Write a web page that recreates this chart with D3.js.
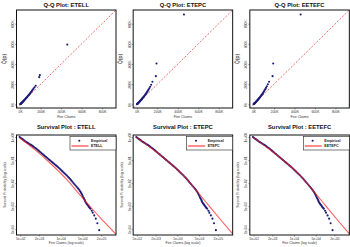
<!DOCTYPE html>
<html><head><meta charset="utf-8">
<script src="https://cdn.jsdelivr.net/npm/d3@7"></script>
<style>body{margin:0;background:#fff}svg{display:block}text{font-family:"Liberation Sans",Arial,sans-serif}</style>
</head><body><svg id="c" width="350" height="247"></svg>
<script>
// ---------- data ----------
const models = ["ETELL", "ETEPC", "EETEFC"];
const qqTicks = [0, 200000, 400000, 600000, 800000];
const qqTickLabels = ["0K", "200K", "400K", "600K", "800K"];
// empirical quantiles (thousands)
const qqEmp = [1,3,5,7,9,11,13,15,18,21,24,27,30,33,36,40,44,48,52,56,60,65,70,75,80,85,90,96,102,108,115,122,130,140,152,186,192,460];
// model quantiles (thousands)
const qqETELL  = [1,3,5,7,9,11,13,15,18,21,24,28,31,34,38,42,46,51,55,60,64,70,76,82,88,94,100,108,116,124,134,144,156,170,185,270,290,593];
const qqETEPC  = [1,3,5,7,9,11,13,15,18,21,24,28,31,35,38,43,47,52,57,62,67,73,79,86,93,100,107,116,126,136,148,160,175,195,224,280,405,892];
const qqEETEFC = [1,3,5,7,9,11,13,15,18,21,24,28,31,35,38,43,47,52,57,62,67,73,80,87,94,101,109,118,128,139,151,164,180,200,224,280,405,892];

const survXTicks = [500, 2000, 10000, 50000, 200000];
const survXTickLabels = ["5e+02", "2e+03", "1e+04", "5e+04", "2e+05"];
const survYTicks = [1, 0.1, 0.01, 0.001, 0.0001];
const survYTickLabels = ["1e+00", "1e-01", "1e-02", "1e-03", "1e-04"];
// empirical survival: log10(claim), log10(S)
const survEmpLogX = [2.68,2.71,2.74,2.77,2.80,2.835,2.87,2.905,2.94,2.975,3.01,3.045,3.08,3.115,3.15,3.185,3.22,3.255,3.29,3.325,3.36,3.395,3.43,3.465,3.50,3.535,3.57,3.605,3.64,3.675,3.71,3.745,3.78,3.815,3.85,3.885,3.92,3.955,3.99,4.025,4.06,4.095,4.13,4.165,4.20,4.235,4.27,4.305,4.34,4.375,4.41,4.445,4.48,4.515,4.55,4.575,4.60,4.625,4.65,4.67,4.69,4.71,4.73,4.75,4.77,4.785,4.80,4.82,4.84,4.86,4.88,4.90,4.92,4.94,4.96,5.00,5.03,5.08,5.13,5.18,5.24];
const survEmpLogS = [0.00,-0.03,-0.06,-0.09,-0.12,-0.155,-0.19,-0.22,-0.25,-0.28,-0.31,-0.34,-0.37,-0.405,-0.44,-0.475,-0.51,-0.55,-0.59,-0.63,-0.67,-0.71,-0.75,-0.79,-0.83,-0.87,-0.91,-0.95,-0.99,-1.03,-1.07,-1.11,-1.15,-1.19,-1.23,-1.27,-1.31,-1.355,-1.40,-1.445,-1.49,-1.535,-1.58,-1.625,-1.67,-1.72,-1.77,-1.825,-1.88,-1.935,-1.99,-2.045,-2.10,-2.155,-2.21,-2.255,-2.30,-2.35,-2.40,-2.45,-2.50,-2.56,-2.62,-2.67,-2.72,-2.77,-2.82,-2.86,-2.90,-2.935,-2.97,-3.01,-3.05,-3.08,-3.11,-3.20,-3.28,-3.40,-3.54,-3.74,-4.04];
// fitted survival curves: log10(claim), log10(S)
const fitLogX = [2.68, 3.2, 3.7, 4.2, 4.6, 5.0, 5.4, 5.78];
const fitETELL  = [-0.03, -0.58, -1.18, -1.85, -2.48, -3.10, -3.68, -4.22];
const fitETEPC  = [0.00, -0.52, -1.06, -1.67, -2.30, -2.95, -3.60, -4.20];
const fitEETEFC = [0.00, -0.52, -1.06, -1.67, -2.30, -2.95, -3.60, -4.20];

const qqY = [qqETELL, qqETEPC, qqEETEFC];
const fitY = [fitETELL, fitETEPC, fitEETEFC];

// ---------- layout ----------
const svg = d3.select("#c");
const colW = 350 / 3;
const boxLeft = 16.5, boxWidth = 99.5;
const topY0 = 10, topY1 = 108;
const botY0 = 135, botY1 = 235;
const navy = "#1c1c78";
const FONT = '"Liberation Sans", Arial, sans-serif';

function box(g, x0, x1, y0, y1) {
  g.append("rect").attr("x", x0).attr("y", y0).attr("width", x1 - x0).attr("height", y1 - y0)
    .attr("fill", "none").attr("stroke", "#111").attr("stroke-width", 1);
}

function axes(g, xs, ys, xt, xl, yt, yl, y1, x0) {
  const ax = g.append("g").attr("transform", `translate(0,${y1})`)
    .call(d3.axisBottom(xs).tickValues(xt).tickSize(1.5).tickPadding(0.8).tickFormat((d, i) => xl[i]));
  ax.select(".domain").remove();
  ax.selectAll("line").attr("stroke", "#444").attr("stroke-width", 0.5);
  ax.selectAll("text").attr("font-size", 3.4).attr("fill", "#333").attr("font-family", FONT);
  const ay = g.append("g").attr("transform", `translate(${x0},0)`)
    .call(d3.axisLeft(ys).tickValues(yt).tickSize(1.5).tickFormat((d, i) => yl[i]));
  ay.select(".domain").remove();
  ay.selectAll("line").attr("stroke", "#444").attr("stroke-width", 0.5);
  ay.selectAll("text").remove();
  ay.selectAll(".tick").append("text")
    .attr("transform", "translate(-2.6,0) rotate(-90)")
    .attr("text-anchor", "middle").attr("font-size", 3.4).attr("fill", "#333")
    .attr("font-family", FONT).text((d, i) => yl[i]);
}

models.forEach((m, c) => {
  const off = c * colW;
  const x0 = off + boxLeft, x1 = x0 + boxWidth;

  // ----- Q-Q plot -----
  const gq = svg.append("g");
  const xq = d3.scaleLinear().domain([-36000, 936000]).range([x0, x1]);
  const yq = d3.scaleLinear().domain([-36000, 936000]).range([topY1, topY0]);
  gq.append("text").attr("x", (x0 + x1) / 2).attr("y", 7.2).attr("text-anchor", "middle")
    .attr("font-size", 5.8).attr("font-weight", "bold").attr("fill", "#111").text("Q-Q Plot: " + m);
  const clipId = "clipq" + c;
  gq.append("clipPath").attr("id", clipId).append("rect")
    .attr("x", x0).attr("y", topY0).attr("width", boxWidth).attr("height", topY1 - topY0);
  gq.append("line").attr("clip-path", `url(#${clipId})`)
    .attr("x1", xq(-36000)).attr("y1", yq(-36000)).attr("x2", xq(936000)).attr("y2", yq(936000))
    .attr("stroke", "#ee2a2a").attr("stroke-width", 0.7).attr("stroke-dasharray", "2,1.6");
  gq.append("g").selectAll("circle").data(qqEmp).join("circle")
    .attr("cx", d => xq(d * 1000)).attr("cy", (d, i) => yq(qqY[c][i] * 1000)).attr("r", 1.05)
    .attr("fill", navy);
  axes(gq, xq, yq, qqTicks, qqTickLabels, qqTicks, qqTickLabels, topY1, x0);
  box(gq, x0, x1, topY0, topY1);
  gq.append("text").attr("x", (x0 + x1) / 2).attr("y", 118.3).attr("text-anchor", "middle")
    .attr("font-size", 3.6).attr("fill", "#333").text("Fire Claims");
  gq.append("text").attr("transform", `translate(${off + 5.5},${(topY0 + topY1) / 2}) rotate(-90)`)
    .attr("text-anchor", "middle").attr("font-size", 5.2).attr("fill", "#222").text("Q\u0302(p)");

  // ----- Survival plot -----
  const gs = svg.append("g");
  const xs = d3.scaleLog().domain([Math.pow(10, 2.58), Math.pow(10, 5.78)]).range([x0, x1]);
  const ys = d3.scaleLog().domain([Math.pow(10, -4.25), Math.pow(10, 0.09)]).range([botY1, botY0]);
  gs.append("text").attr("x", (x0 + x1) / 2).attr("y", 129.2).attr("text-anchor", "middle")
    .attr("font-size", 5.8).attr("font-weight", "bold").attr("fill", "#111").text("Survival Plot : " + m);
  const clipS = "clips" + c;
  gs.append("clipPath").attr("id", clipS).append("rect")
    .attr("x", x0).attr("y", botY0).attr("width", boxWidth).attr("height", botY1 - botY0);
  gs.append("g").selectAll("circle").data(survEmpLogX).join("circle")
    .attr("cx", d => xs(Math.pow(10, d))).attr("cy", (d, i) => ys(Math.pow(10, survEmpLogS[i]))).attr("r", 1.05)
    .attr("fill", navy);
  const line = d3.line().curve(d3.curveMonotoneX)
    .x(d => xs(Math.pow(10, d[0]))).y(d => ys(Math.pow(10, d[1])));
  gs.append("path").attr("clip-path", `url(#${clipS})`)
    .attr("d", line(fitLogX.map((d, i) => [d, fitY[c][i]])))
    .attr("fill", "none").attr("stroke", "#ff1a1a").attr("stroke-width", 1.1).attr("stroke-opacity", 0.7);
  axes(gs, xs, ys, survXTicks, survXTickLabels, survYTicks, survYTickLabels, botY1, x0);
  box(gs, x0, x1, botY0, botY1);
  gs.append("text").attr("x", (x0 + x1) / 2).attr("y", 244.3).attr("text-anchor", "middle")
    .attr("font-size", 3.5).attr("fill", "#333").text("Fire Claims (log scale)");
  gs.append("text").attr("transform", `translate(${off + 6},${(botY0 + botY1) / 2}) rotate(-90)`)
    .attr("text-anchor", "middle").attr("font-size", 3.4).attr("fill", "#333").text("Survival Probability (log scale)");

  // legend
  const lx0 = x1 - 46, ly0 = botY0 + 1.5;
  const lg = gs.append("g");
  lg.append("rect").attr("x", lx0).attr("y", ly0).attr("width", 46).attr("height", 13.5)
    .attr("fill", "#fff").attr("stroke", "#222").attr("stroke-width", 0.6);
  lg.append("circle").attr("cx", lx0 + 9.3).attr("cy", ly0 + 4.3).attr("r", 1.05).attr("fill", navy);
  lg.append("line").attr("x1", lx0 + 1.5).attr("x2", lx0 + 18.5).attr("y1", ly0 + 9.5).attr("y2", ly0 + 9.5)
    .attr("stroke", "#ff1a1a").attr("stroke-width", 1);
  lg.append("text").attr("x", lx0 + 21).attr("y", ly0 + 5.6).attr("font-size", 3.6).attr("font-weight", "bold")
    .attr("fill", "#222").text("Empirical");
  lg.append("text").attr("x", lx0 + 21).attr("y", ly0 + 10.8).attr("font-size", 3.6).attr("font-weight", "bold")
    .attr("fill", "#222").text(m);
});
</script></body></html>
